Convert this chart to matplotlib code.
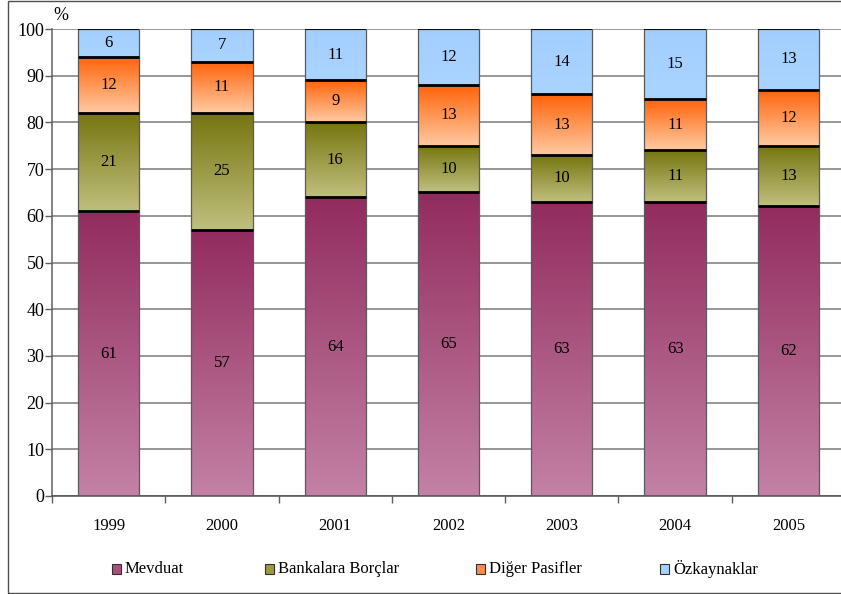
import numpy as np
import matplotlib.pyplot as plt
from matplotlib.colors import LinearSegmentedColormap
from matplotlib.patches import Rectangle

plt.rcParams['font.family'] = ['Liberation Serif', 'DejaVu Serif']

years = ['1999', '2000', '2001', '2002', '2003', '2004', '2005']
mevduat = [61, 57, 64, 65, 63, 63, 62]
bankalara = [21, 25, 16, 10, 10, 11, 13]
diger = [12, 11, 9, 13, 13, 11, 12]
ozkaynak = [6, 7, 11, 12, 14, 15, 13]

series_names = ['Mevduat', 'Bankalara Borçlar', 'Diğer Pasifler', 'Özkaynaklar']
series_values = [mevduat, bankalara, diger, ozkaynak]
# (bottom colour, top colour) for the vertical gradient of each segment
series_colors = [
    ('#c382a5', '#922c5e'),
    ('#c0c07f', '#75750f'),
    ('#ffcaa2', '#ff6208'),
    ('#aad4ff', '#a2ceff'),
]
legend_colors = ['#a94f7e', '#9a9a45', '#ff8a4a', '#a6d0ff']

W, H = 841, 594
fig = plt.figure(figsize=(W / 100, H / 100), dpi=100)
ax = fig.add_axes([52 / W, 98 / H, 793 / W, 467 / H])

x = np.arange(len(years))
bar_w = 0.54
grad = np.linspace(0, 1, 256).reshape(-1, 1)
base = np.zeros(len(years))

for name, vals, (cbot, ctop) in zip(series_names, series_values, series_colors):
    cmap = LinearSegmentedColormap.from_list(name, [cbot, ctop])
    bars = ax.bar(x, vals, width=bar_w, bottom=base, color='none',
                  edgecolor='#5a5a5a', linewidth=0.9, zorder=3)
    for b, v in zip(bars, vals):
        x0, y0 = b.get_x(), b.get_y()
        w, h = b.get_width(), b.get_height()
        ax.imshow(grad, extent=(x0, x0 + w, y0, y0 + h), origin='lower',
                  cmap=cmap, aspect='auto', zorder=2, interpolation='bilinear')
        top = y0 + h
        ax.hlines(top, x0, x0 + w, colors='black',
                  linewidth=2.0 if top < 100 else 1.2, zorder=4)
        ax.text(x0 + w / 2, y0 + h / 2, str(v), ha='center', va='center',
                fontsize=12, color='black', zorder=5)
    base = base + np.array(vals)

ax.set_xlim(-0.5, len(years) - 0.5)
ax.set_ylim(0, 100)

ax.set_yticks(np.arange(0, 101, 10))
ax.tick_params(axis='y', direction='out', length=5, pad=0.5, labelsize=13,
               color='#606060', width=1)
ax.yaxis.grid(True, color='#7a7a7a', linewidth=1.1)
ax.set_axisbelow(True)

ax.set_xticks(np.arange(-0.5, len(years) - 0.5, 1))
ax.set_xticklabels([])
ax.set_xticks(x, minor=True)
ax.set_xticklabels(years, minor=True)
ax.tick_params(axis='x', which='major', direction='out', length=5,
               color='#606060', width=1)
ax.tick_params(axis='x', which='minor', length=0, pad=16, labelsize=12)

for side in ('top', 'right'):
    ax.spines[side].set_visible(False)
ax.spines['left'].set_color('#606060')
ax.spines['bottom'].set_color('#505050')
ax.spines['left'].set_linewidth(1.1)
ax.spines['bottom'].set_linewidth(1.1)

fig.text(61 / W, 1 - 15 / H, '%', ha='center', va='center', fontsize=13)

# legend entries laid out along the bottom
legend_x = [112, 265, 476, 660]
ly = 569
sq_w, sq_h = 9, 10
for lx, name, col in zip(legend_x, series_names, legend_colors):
    fig.add_artist(Rectangle((lx / W, (H - ly - sq_h / 2) / H), sq_w / W, sq_h / H,
                             transform=fig.transFigure, facecolor=col,
                             edgecolor='#303030', linewidth=0.8))
    fig.text((lx + sq_w + 4) / W, (H - ly) / H, name, ha='left', va='center',
             fontsize=12)

# outer frame
fig.add_artist(Rectangle((7.5 / W, 1.5 / H), 1.2, 1 - 2 / H,
                         transform=fig.transFigure, facecolor='none',
                         edgecolor='#505050', linewidth=1.0))

fig.savefig('out.png', dpi=100)
